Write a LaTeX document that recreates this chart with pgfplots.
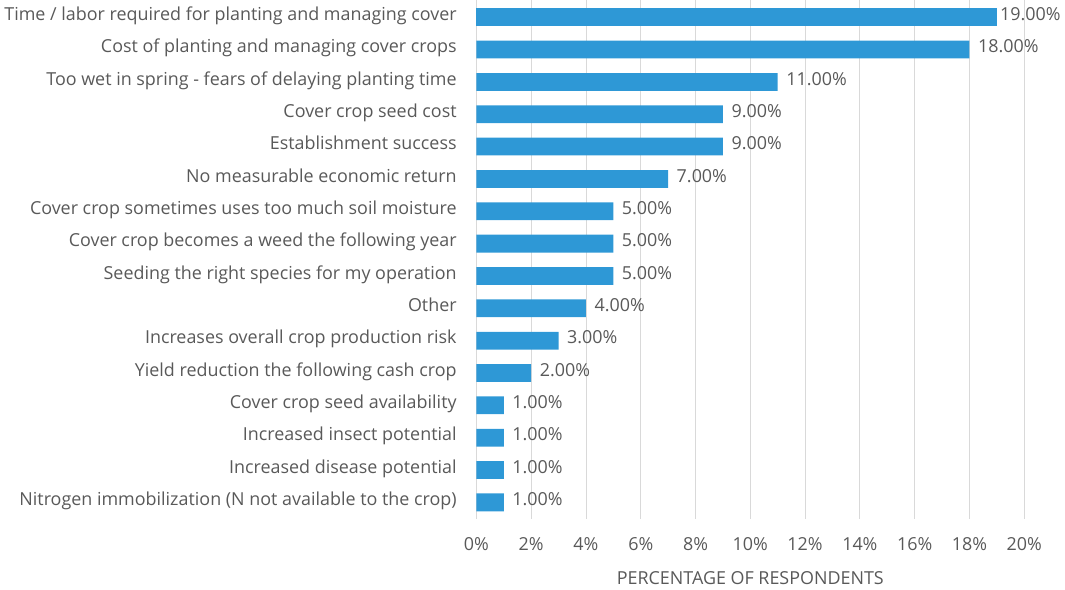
\documentclass[border=0pt]{standalone}
\usepackage{pgfplots}
\pgfplotsset{compat=1.18}
\usepackage{fontspec}
\setmainfont{Open Sans}
\definecolor{barblue}{RGB}{46,152,214}
\definecolor{txt}{RGB}{89,89,89}
\definecolor{gridc}{RGB}{217,217,217}
\begin{document}
\begin{tikzpicture}
\begin{axis}[
    scale only axis, width=416pt, height=394pt,
    xbar, bar width=0.55, bar shift=0pt,
    xmin=0, xmax=20, ymin=-0.52, ymax=15.52,
    y dir=reverse,
    axis line style={draw=none},
    xmajorgrids, grid style={gridc, line width=0.6pt},
    xtick={0,2,...,20}, xticklabel={\pgfmathprintnumber{\tick}\%},
    ytick={0,...,15},
    yticklabels={Time / labor required for planting and managing cover,
        Cost of planting and managing cover crops,
        Too wet in spring - fears of delaying planting time,
        Cover crop seed cost,
        Establishment success,
        No measurable economic return,
        Cover crop sometimes uses too much soil moisture,
        Cover crop becomes a weed the following year,
        Seeding the right species for my operation,
        Other,
        Increases overall crop production risk,
        Yield reduction the following cash crop,
        Cover crop seed availability,
        Increased insect potential,
        Increased disease potential,
        Nitrogen immobilization (N not available to the crop)},
    major tick length=0pt,
    tick label style={font=\fontsize{13.6}{15}\selectfont, text=txt,
        text height=0.72em, text depth=0.22em},
    yticklabel style={xshift=-11.5pt},
    xticklabel style={yshift=-13pt},
    /pgf/number format/assume math mode=true,
    xlabel={PERCENTAGE OF RESPONDENTS},
    xlabel style={font=\fontsize{13.6}{15}\selectfont, text=txt, yshift=-7pt},
    nodes near coords={\pgfmathprintnumber[fixed, fixed zerofill, precision=2]{\pgfplotspointmeta}\%},
    nodes near coords style={font=\fontsize{13.6}{15}\selectfont, text=txt,
        anchor=west, xshift=3pt, text height=0.72em, text depth=0.22em},
    point meta=x,
    clip=false,
]
% the top label sits against its bar, as in the source
\addplot[fill=barblue, draw=none,
    nodes near coords style={xshift=-4pt}] coordinates {(19,0)};
\addplot[fill=barblue, draw=none] coordinates {
    (18,1) (11,2) (9,3) (9,4) (7,5) (5,6) (5,7) (5,8)
    (4,9) (3,10) (2,11) (1,12) (1,13) (1,14) (1,15)};
\end{axis}
\end{tikzpicture}
\end{document}
